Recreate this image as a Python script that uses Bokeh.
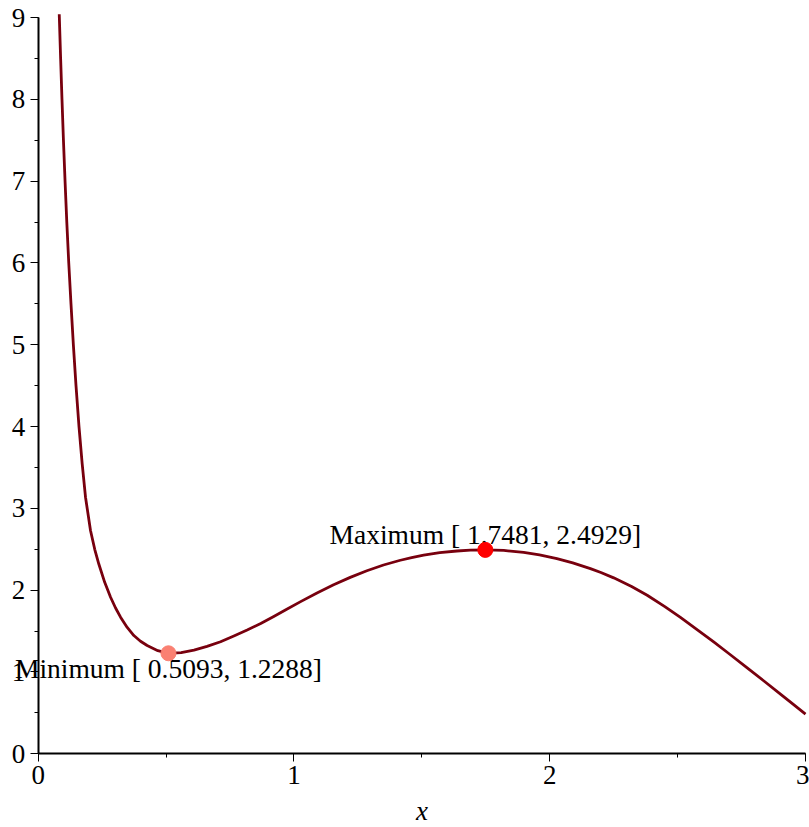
from bokeh.plotting import figure
from bokeh.models import SingleIntervalTicker, Label, Range1d
from bokeh.embed import file_html
from bokeh.resources import INLINE

# curve
curve_x = [0.0823, 0.0827, 0.0877, 0.093, 0.0987, 0.105, 0.1118, 0.1195, 0.1282, 0.1375,
           0.1478, 0.1595, 0.172, 0.185, 0.2045, 0.221, 0.237, 0.26, 0.283, 0.3025,
           0.322, 0.348, 0.374, 0.40, 0.426, 0.4677, 0.5093, 0.559, 0.609, 0.66,
           0.713, 0.765, 0.817, 0.87, 0.921, 0.97, 1.026, 1.09, 1.155, 1.22,
           1.285, 1.35, 1.416, 1.46, 1.507, 1.57, 1.637, 1.69, 1.7481, 1.82,
           1.898, 1.96, 2.028, 2.09, 2.159, 2.2, 2.25, 2.32, 2.381, 2.45,
           2.511, 2.58, 2.641, 2.70, 2.772, 2.84, 2.902, 2.95, 3.0]
curve_y = [9.04, 9.0, 8.5, 8.0, 7.5, 7.0, 6.5, 6.0, 5.5, 5.0,
           4.5, 4.0, 3.545, 3.137, 2.73, 2.50, 2.32, 2.096, 1.914, 1.782,
           1.67, 1.545, 1.446, 1.376, 1.324, 1.261, 1.2288, 1.238, 1.268, 1.313,
           1.37, 1.44, 1.513, 1.593, 1.678, 1.763, 1.86, 1.967, 2.066, 2.157,
           2.238, 2.308, 2.366, 2.398, 2.428, 2.459, 2.479, 2.489, 2.4929, 2.4857,
           2.4623, 2.4313, 2.385, 2.333, 2.264, 2.217, 2.151, 2.045, 1.938, 1.799,
           1.667, 1.51, 1.367, 1.226, 1.051, 0.884, 0.730, 0.610, 0.485]

# extreme points
ext_kind = ["Minimum", "Maximum"]
ext_x = [0.5093, 1.7481]
ext_y = [1.2288, 2.4929]
ext_color = ["#FA8072", "#FF0000"]
ext_baseline = ["top", "bottom"]

FONT = "Liberation Serif"

p = figure(width=809, height=827, x_range=Range1d(-0.1474, 3.0156),
           y_range=Range1d(-0.901, 9.209),
           output_backend="svg", toolbar_location=None,
           min_border_left=0, min_border_right=0, min_border_top=0, min_border_bottom=0)
p.title.visible = False
p.outline_line_color = None
p.xgrid.grid_line_color = None
p.ygrid.grid_line_color = None
p.background_fill_color = "white"
p.border_fill_color = "white"

for ax in (p.xaxis[0], p.yaxis[0]):
    ax.fixed_location = 0
    ax.ticker = SingleIntervalTicker(interval=1, num_minor_ticks=2)
    ax.axis_line_color = "black"
    ax.axis_line_width = 2
    ax.major_tick_line_color = "black"
    ax.minor_tick_line_color = "black"
    ax.major_tick_line_width = 1
    ax.minor_tick_line_width = 1
    ax.major_tick_out = 8
    ax.major_tick_in = 0
    ax.minor_tick_out = 4
    ax.minor_tick_in = 0
    ax.major_label_text_font = FONT
    ax.major_label_text_font_size = "27px"
    ax.major_label_text_color = "black"
p.xaxis[0].bounds = (0, 3)
p.yaxis[0].bounds = (0, 9)
p.xaxis[0].major_label_standoff = 4
p.yaxis[0].major_label_standoff = 5
p.xaxis[0].axis_label = "x"
p.xaxis[0].axis_label_text_font = FONT
p.xaxis[0].axis_label_text_font_style = "italic"
p.xaxis[0].axis_label_text_font_size = "27px"
p.xaxis[0].axis_label_text_color = "black"
p.xaxis[0].axis_label_standoff = 9

for k, xv, yv, bl in zip(ext_kind, ext_x, ext_y, ext_baseline):
    p.add_layout(Label(x=xv, y=yv, text=f"{k} [ {xv:.4f}, {yv:.4f}]",
                       text_font=FONT, text_font_size="27.5px", text_color="black",
                       text_align="center", text_baseline=bl, level="underlay"))

p.line(curve_x, curve_y, line_color="#78000E", line_width=2.8, line_join="round")
p.scatter(ext_x, ext_y, size=15, fill_color=ext_color, line_color=ext_color)

open("out.html", "w").write(file_html(p, INLINE))
